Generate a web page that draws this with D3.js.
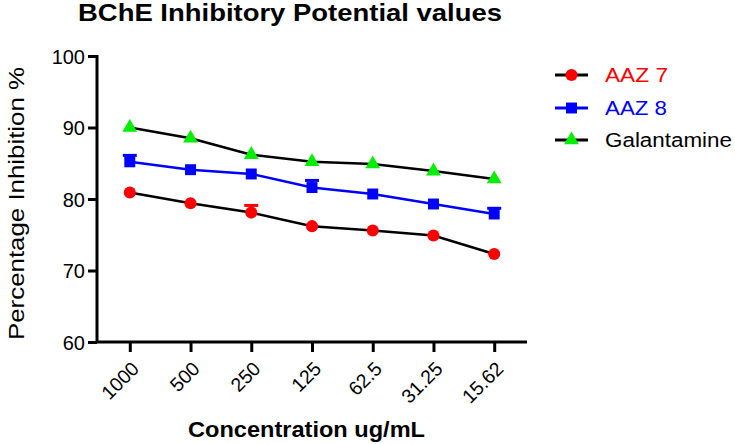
<!DOCTYPE html>
<html><head><meta charset="utf-8">
<script src="https://cdn.jsdelivr.net/npm/d3@7"></script>
<style>body{margin:0;background:#fff}svg{display:block}text{font-family:"Liberation Sans",Arial,sans-serif}</style>
</head><body>
<svg id="c" width="735" height="444"></svg>
<script>
const categories = ["1000","500","250","125","62.5","31.25","15.62"];
const aaz7 = [80.9, 79.4, 78.1, 76.2, 75.6, 74.9, 72.3];
const aaz7Err = [0, 0, 1.0, 0, 0, 0, 0];
const aaz8 = [85.2, 84.1, 83.5, 81.6, 80.7, 79.3, 77.9];
const aaz8Err = [0.9, 0, 0, 1.0, 0, 0, 0.8];
const galantamine = [90.0, 88.5, 86.2, 85.2, 84.9, 83.9, 82.8];
const galErr = [0, 0, 0, 0, 0, 0, 0];
const yTicks = [60, 70, 80, 90, 100];

const series = [
  {name:"AAZ 7", values:aaz7, err:aaz7Err, line:"#000", fill:"#ff0000", text:"#ff0000", shape:"circle", w:63},
  {name:"AAZ 8", values:aaz8, err:aaz8Err, line:"#0000ff", fill:"#0000ff", text:"#0000ff", shape:"square", w:62},
  {name:"Galantamine", values:galantamine, err:galErr, line:"#000", fill:"#00ee00", text:"#000", shape:"triangle", w:127}
];

const svg = d3.select("#c");
const pL = 97, pR = 527, pT = 56, pB = 342;
const x = d3.scalePoint().domain(categories).range([pL, pR]).padding(0.54);
const y = d3.scaleLinear().domain([60, 100]).range([pB, pT]);

function symbolPath(shape){
  if(shape==="circle") return d3.symbol(d3.symbolCircle, 115)();
  if(shape==="square") return d3.symbol(d3.symbolSquare, 120)();
  return d3.symbol(d3.symbolTriangle, 95)();
}

// title
svg.append("text").attr("x", 290).attr("y", 21).attr("text-anchor","middle")
  .attr("font-size", 24).attr("font-weight","bold")
  .attr("textLength", 424).attr("lengthAdjust","spacingAndGlyphs")
  .text("BChE Inhibitory Potential values");

// y axis
const ya = svg.append("g").attr("transform", `translate(${pL},0)`)
  .call(d3.axisLeft(y).tickValues(yTicks).tickSize(9).tickPadding(3).tickFormat(d3.format("d")));
ya.select(".domain").attr("stroke","#000").attr("stroke-width",3).attr("d", `M0,${pT-1}V${pB+1}`);
ya.selectAll(".tick line").attr("stroke","#000").attr("stroke-width",3);
ya.selectAll(".tick text").attr("font-size",20).attr("fill","#000")
  .attr("font-family","Liberation Sans, Arial, sans-serif").attr("dy","0.36em");

// x axis
const xa = svg.append("g").attr("transform", `translate(0,${pB})`)
  .call(d3.axisBottom(x).tickSize(10).tickPadding(4));
xa.select(".domain").attr("stroke","#000").attr("stroke-width",3).attr("d", `M${pL-1},0H${pR}`);
xa.selectAll(".tick line").attr("stroke","#000").attr("stroke-width",3);
xa.selectAll(".tick text").attr("font-size",19.5).attr("fill","#000")
  .attr("font-family","Liberation Sans, Arial, sans-serif")
  .attr("text-anchor","end").attr("dy",null)
  .attr("transform","translate(10,28) rotate(-45)").attr("y",0).attr("x",0);

// axis titles
svg.append("text").attr("transform", `translate(24,${203.5}) rotate(-90)`)
  .attr("text-anchor","middle").attr("font-size",22)
  .attr("textLength", 273).attr("lengthAdjust","spacingAndGlyphs")
  .text("Percentage Inhibition %");
svg.append("text").attr("x", 306.5).attr("y", 437).attr("text-anchor","middle")
  .attr("font-size",22).attr("font-weight","bold")
  .attr("textLength", 237).attr("lengthAdjust","spacingAndGlyphs")
  .text("Concentration ug/mL");

const line = d3.line().x((d,i)=>x(categories[i])).y(d=>y(d));

series.forEach(s=>{
  svg.append("path").datum(s.values).attr("d", line).attr("fill","none")
    .attr("stroke", s.line).attr("stroke-width", 2.5);
});
series.forEach(s=>{
  const g = svg.append("g");
  s.values.forEach((v,i)=>{
    const cx = x(categories[i]);
    if(s.err[i] > 0){
      g.append("line").attr("x1",cx).attr("x2",cx).attr("y1",y(v)).attr("y2",y(v+s.err[i]))
        .attr("stroke",s.fill).attr("stroke-width",2.5);
      g.append("line").attr("x1",cx-7).attr("x2",cx+7).attr("y1",y(v+s.err[i])).attr("y2",y(v+s.err[i]))
        .attr("stroke",s.fill).attr("stroke-width",3);
    }
    g.append("path").attr("d", symbolPath(s.shape)).attr("transform",`translate(${cx},${y(v)})`)
      .attr("fill", s.fill);
  });
});

// legend
const legY = [75, 108, 140];
series.forEach((s,i)=>{
  const ly = legY[i];
  svg.append("line").attr("x1",555).attr("x2",588).attr("y1",ly).attr("y2",ly)
    .attr("stroke",s.line).attr("stroke-width",3);
  svg.append("path").attr("d", symbolPath(s.shape)).attr("transform",`translate(571.5,${ly})`).attr("fill",s.fill);
  svg.append("text").attr("x",605).attr("y",ly+7).attr("font-size",20).attr("fill",s.text)
    .attr("textLength", s.w).attr("lengthAdjust","spacingAndGlyphs").text(s.name);
});
</script>
</body></html>
